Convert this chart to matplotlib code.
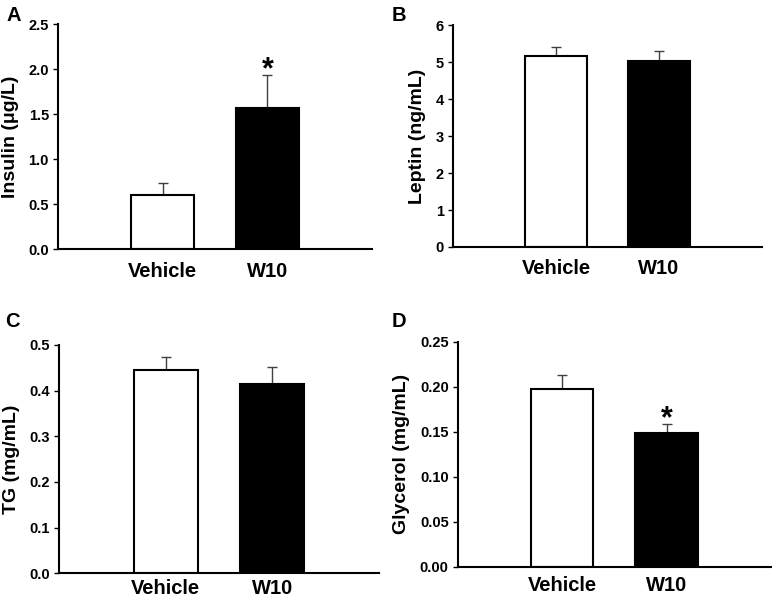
import matplotlib
matplotlib.use('Agg')
import matplotlib.pyplot as plt

plt.rcParams['font.family'] = ['Liberation Sans', 'DejaVu Sans']
plt.rcParams['font.weight'] = 'bold'

groups = ['Vehicle', 'W10']

insulin = [0.60, 1.57]
insulin_err = [0.135, 0.37]

leptin = [5.17, 5.03]
leptin_err = [0.23, 0.27]

tg = [0.446, 0.414]
tg_err = [0.028, 0.037]

glycerol = [0.197, 0.149]
glycerol_err = [0.0165, 0.0095]

panels = [
    ('A', 'Insulin (\u03bcg/L)', insulin, insulin_err, [0.0, 0.5, 1.0, 1.5, 2.0, 2.5], '{:.1f}', True),
    ('B', 'Leptin (ng/mL)', leptin, leptin_err, [0, 1, 2, 3, 4, 5, 6], '{:.0f}', False),
    ('C', 'TG (mg/mL)', tg, tg_err, [0.0, 0.1, 0.2, 0.3, 0.4, 0.5], '{:.1f}', False),
    ('D', 'Glycerol (mg/mL)', glycerol, glycerol_err, [0.0, 0.05, 0.10, 0.15, 0.20, 0.25], '{:.2f}', True),
]

boxes = [
    [0.0751, 0.587, 0.407, 0.373],
    [0.5868, 0.5904, 0.400, 0.368],
    [0.0764, 0.0493, 0.4145, 0.3786],
    [0.5929, 0.0602, 0.4058, 0.3731],
]
letter_pos = [(0.008, 0.99), (0.507, 0.99), (0.006, 0.483), (0.507, 0.483)]
xpads = [9, 9, 4, 7]

fig = plt.figure(figsize=(7.72, 6.03), dpi=100)

for (letter, ylabel, vals, errs, ticks, fmt, star), box, lp, xp in zip(panels, boxes, letter_pos, xpads):
    ax = fig.add_axes(box)
    x = [1, 2]
    ax.bar(x, vals, width=0.6, color=['white', 'black'], edgecolor='black', linewidth=1.5, zorder=2)
    ax.errorbar(x, vals, yerr=[[0, 0], errs], fmt='none', ecolor='#404040',
                elinewidth=1, capsize=3.6, capthick=1, zorder=1)
    ax.set_xlim(0, 3)
    ax.set_ylim(0, ticks[-1])
    ax.set_yticks(ticks)
    ax.set_yticklabels([fmt.format(t) for t in ticks], fontsize=10.5, fontweight='bold')
    ax.set_xticks(x)
    ax.set_xticklabels(groups, fontsize=14.5, fontweight='bold')
    ax.tick_params(axis='x', length=0, pad=xp)
    ax.tick_params(axis='y', length=3.5, width=1, pad=3)
    ax.set_ylabel(ylabel, fontsize=14, fontweight='bold', labelpad=7)
    for s in ['top', 'right']:
        ax.spines[s].set_visible(False)
    for s in ['left', 'bottom']:
        ax.spines[s].set_linewidth(1.5)
    if star:
        ax.text(2, vals[1] + errs[1] + ticks[-1] * 0.02, '*', ha='center', va='center',
                fontsize=22, fontweight='bold')
    fig.text(lp[0], lp[1], letter, fontsize=14.5, fontweight='bold', ha='left', va='top')

fig.savefig('out.png', dpi=100)
